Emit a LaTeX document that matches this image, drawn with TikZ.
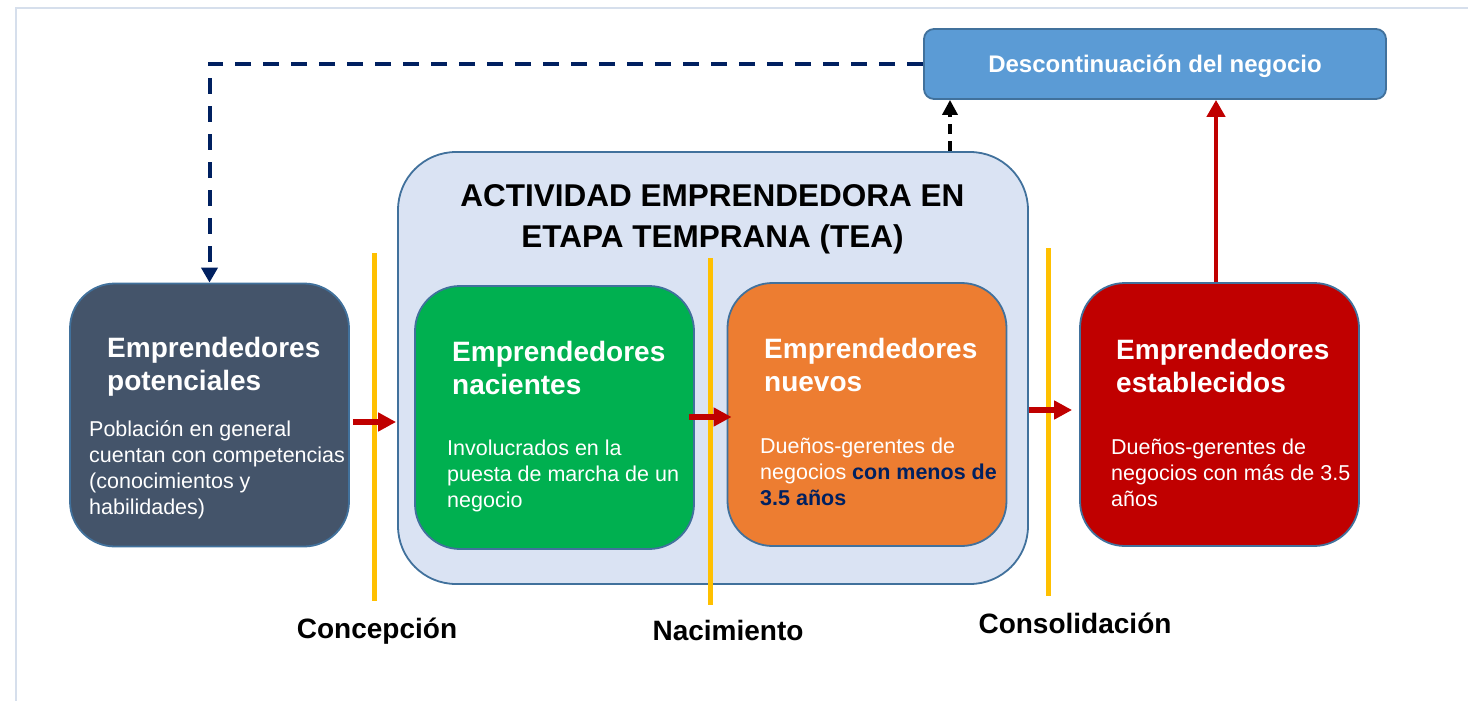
\documentclass[tikz,border=0pt]{standalone}
\usepackage{fontspec}
\setmainfont{Liberation Sans}
\usetikzlibrary{arrows.meta}
\definecolor{framec}{HTML}{D6DFEC}
\definecolor{borderc}{HTML}{41719C}
\definecolor{descc}{HTML}{5B9BD5}
\definecolor{teac}{HTML}{DAE3F3}
\definecolor{potc}{HTML}{44546A}
\definecolor{nacc}{HTML}{00B050}
\definecolor{nuec}{HTML}{ED7D31}
\definecolor{estc}{HTML}{C00000}
\definecolor{yelc}{HTML}{FFC000}
\definecolor{navyc}{HTML}{002060}
\tikzset{
  box/.style={draw=borderc, line width=1.8pt, rounded corners=#1, inner sep=0pt},
  stagebox/.style={box=45pt, minimum width=279pt, minimum height=263pt},
  ttl/.style={anchor=west, align=left, inner sep=0pt, text=white, font=\bfseries\fontsize{28}{33}\selectfont},
  bodytxt/.style={anchor=west, align=left, inner sep=0pt, text=white, font=\fontsize{21.5}{26}\selectfont},
  lbl/.style={inner sep=0pt, font=\bfseries\fontsize{28}{32}\selectfont},
  yline/.style={draw=yelc, line width=5pt},
  flow/.style={draw=estc, line width=6pt, -{Triangle[length=18pt,width=18pt]}},
}
\begin{document}
\begin{tikzpicture}[x=1pt,y=-1pt]
\useasboundingbox (0,0) rectangle (1468,701);
\draw[framec, line width=1.2pt] (16,701) -- (16,8) -- (1468,8);

% boxes
\node[box=10pt, fill=descc, minimum width=462pt, minimum height=70pt] (desc) at (1155,64) {};
\node[text=white, font=\bfseries\fontsize{24}{28}\selectfont, inner sep=0pt] (desct) at (1155,66) {Descontinuación del negocio};
\node[box=58pt, fill=teac, minimum width=630pt, minimum height=432pt] (tea) at (713,368) {};
\node[stagebox, fill=potc] (pot) at (209.5,415) {};
\node[stagebox, fill=nacc] (nac) at (554.5,417.5) {};
\node[stagebox, fill=nuec] (nue) at (867,414.5) {};
\node[stagebox, fill=estc] (est) at (1219.5,414.5) {};

% texts
\node[inner sep=0pt, align=center, font=\bfseries\fontsize{31.5}{41}\selectfont] (teat) at (712.5,219) {ACTIVIDAD EMPRENDEDORA EN\\ETAPA TEMPRANA (TEA)};
\node[ttl] (pott) at (107,367) {Emprendedores\\potenciales};
\node[bodytxt] (potb) at (89,470) {Población en general\\cuentan con competencias\\(conocimientos y\\habilidades)};
\node[ttl] (nact) at (452,368) {Emprendedores\\nacientes};
\node[bodytxt] (nacb) at (447,476) {Involucrados en la\\puesta de marcha de un\\negocio};
\node[ttl] (nuet) at (764,364.5) {Emprendedores\\nuevos};
\node[bodytxt] (nueb) at (760,471.5) {Dueños-gerentes de\\negocios \textcolor{navyc}{\bfseries con menos de}\\\textcolor{navyc}{\bfseries 3.5 años}};
\node[ttl] (estt) at (1116,366) {Emprendedores\\establecidos};
\node[bodytxt] (estb) at (1111,473) {Dueños-gerentes de\\negocios con más de 3.5\\años};

% yellow milestone lines
\coordinate (y1t) at (374,253); \coordinate (y1b) at (374,601);
\coordinate (y2t) at (710,258); \coordinate (y2b) at (710,605);
\coordinate (y3t) at (1048,248); \coordinate (y3b) at (1048,596);
\draw[yline] (y1t) -- (y1b);
\draw[yline] (y2t) -- (y2b);
\draw[yline] (y3t) -- (y3b);

\node[lbl] (l1) at (377,631) {Concepción};
\node[lbl] (l2) at (728,630) {Nacimiento};
\node[lbl] (l3) at (1075,623) {Consolidación};

% flow arrows
\coordinate (a1) at (0,422);
\coordinate (a2) at (0,417);
\coordinate (a3) at (0,410);
\draw[flow, shorten <=3pt, shorten >=1pt] (pot.east |- a1) -- (tea.west |- a1);
\draw[flow, shorten <=-6pt, shorten >=-5pt] (nac.east |- a2) -- (nue.west |- a2);
\draw[flow, shorten >=7pt] (tea.east |- a3) -- (est.west |- a3);

% to discontinuation
\draw[estc, line width=4.5pt, -{Triangle[length=17pt,width=18pt]}] (est.north -| 1216,0) -- (desc.south -| 1216,0);
\coordinate (k) at (950,0);
\draw[black, line width=3.5pt, dash pattern=on 10pt off 7pt, -{Triangle[length=15pt,width=15pt]}] (tea.north -| k) -- (desc.south -| k);
\draw[navyc, line width=4pt, dash pattern=on 16pt off 12pt, -{Triangle[length=15pt,width=16pt]}] (desc.west) -| (pot.north);
\end{tikzpicture}
\end{document}
